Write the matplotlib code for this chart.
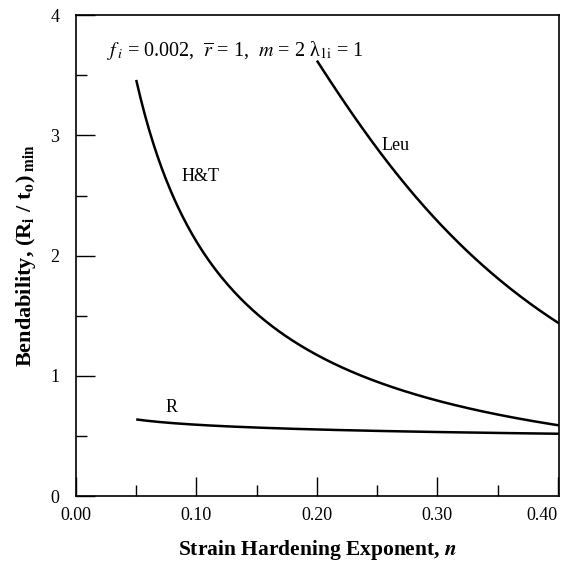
import numpy as np
import matplotlib
matplotlib.use("Agg")
import matplotlib.pyplot as plt
from matplotlib.ticker import MultipleLocator

plt.rcParams['font.family'] = ['Liberation Serif', 'DejaVu Serif']
plt.rcParams['mathtext.fontset'] = 'stix'

# curves
n_ht = [0.050, 0.064, 0.080, 0.097, 0.119, 0.144, 0.161, 0.200, 0.255, 0.310, 0.366, 0.401]
b_ht = [3.42, 2.99, 2.52, 2.16, 1.82, 1.58, 1.44, 1.16, 0.94, 0.76, 0.65, 0.59]

n_leu = [0.200, 0.227, 0.255, 0.283, 0.310, 0.338, 0.366, 0.401]
b_leu = [3.60, 3.27, 2.80, 2.47, 2.16, 1.94, 1.69, 1.43]

n_r = [0.050, 0.092, 0.144, 0.200, 0.255, 0.330, 0.401]
b_r = [0.64, 0.59, 0.58, 0.555, 0.54, 0.525, 0.52]

labels = ['H&T', 'Leu', 'R']
label_pos = [(0.103, 2.66), (0.265, 2.92), (0.079, 0.74)]

x_ticks = [0.0, 0.1, 0.2, 0.3, 0.4]
x_ticklabels = ['0.00', '0.10', '0.20', '0.30', '0.40']


def smooth(x, y, num=200):
    # quadratic fit in log-log space, keeps the curves smooth
    x = np.asarray(x)
    y = np.asarray(y)
    xs = np.linspace(x[0], x[-1], num)
    p = np.polyfit(np.log(x), np.log(y), 2)
    return xs, np.exp(np.polyval(p, np.log(xs)))


fig = plt.figure(figsize=(5.67, 5.65), dpi=100)
ax = fig.add_axes([0.134, 0.122, 0.852, 0.851])

for xs, ys in [(n_ht, b_ht), (n_leu, b_leu), (n_r, b_r)]:
    sx, sy = smooth(xs, ys)
    ax.plot(sx, sy, color='black', lw=1.8, solid_capstyle='butt')

for lab, (lx, ly) in zip(labels, label_pos):
    ax.text(lx, ly, lab, fontsize=13, ha='center', va='center')

ax.text(0.026, 3.71, r'$f_{\,i}$ = 0.002,  $\overline{r}$ = 1,  $m$ = 2 λ$_{\mathrm{1i}}$ = 1',
        fontsize=14.5, ha='left', va='center')

ax.set_xlim(0, 0.401)
ax.set_ylim(0, 4)
ax.set_xticks(x_ticks, x_ticklabels)
ax.xaxis.set_minor_locator(MultipleLocator(0.05))
ax.yaxis.set_major_locator(MultipleLocator(1))
ax.yaxis.set_minor_locator(MultipleLocator(0.5))
ax.tick_params(which='major', direction='in', length=14, width=1, labelsize=13, pad=8)
ax.tick_params(axis='y', which='major', pad=12)
ax.tick_params(which='minor', direction='in', length=8, width=1)
ax.tick_params(top=False, right=False)
for s in ax.spines.values():
    s.set_linewidth(1.2)

xt = ax.get_xticklabels()
xt[-1].set_horizontalalignment('right')

ax.set_xlabel(r'Strain Hardening Exponent, $\boldsymbol{n}$', fontsize=15.5, fontweight='bold', labelpad=10)
ax.set_ylabel(r'Bendability, (R$_{\mathbf{i}}$ / t$_{\mathbf{o}}$)$_{\mathbf{\ min}}$', fontsize=16,
              fontweight='bold', labelpad=9)

fig.savefig('out.png', dpi=100)
